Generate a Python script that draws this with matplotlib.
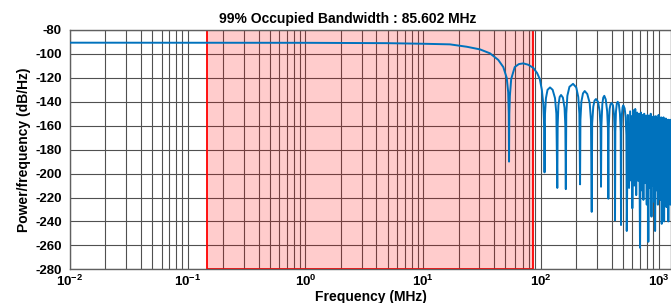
import numpy as np
import matplotlib
matplotlib.use('Agg')
from matplotlib import pyplot as plt
from matplotlib.ticker import LogLocator, NullFormatter

plt.rcParams['font.family'] = ['Liberation Sans', 'DejaVu Sans']
plt.rcParams['font.weight'] = 'bold'
plt.rcParams['mathtext.fontset'] = 'custom'
plt.rcParams['mathtext.rm'] = 'Liberation Sans:bold'
plt.rcParams['mathtext.bf'] = 'Liberation Sans:bold'
plt.rcParams['mathtext.it'] = 'Liberation Sans:bold'
plt.rcParams['axes.unicode_minus'] = False

# main lobe (MHz, dB/Hz)
main_f = [0.01, 1.0, 5.0, 10.0, 16.9, 23.5, 30.4, 37.0, 43.5, 48.0, 51.3, 52.8, 53.4, 53.7]
main_db = [-90.6, -90.7, -91.0, -91.5, -92.0, -94.0, -96.2, -99.5, -105.0, -111.0, -120.0, -132.0, -150.0, -190.0]

# resolved sidelobes
side_f = [54.0, 54.6, 56.0, 60.0, 65.0, 71.0, 78.0, 86.0, 93.0, 98.0, 102.0, 105.0, 106.7, 107.5,
          108.5, 110.5, 114.0, 119.7, 126.0, 132.0, 135.5, 138.0,
          139.0, 141.0, 144.5, 148.5, 154.0, 159.0, 161.5, 163.0,
          164.5, 168.0, 175.0, 187.8, 200.0, 208.0, 212.5, 215.4,
          217.0, 221.0, 228.0, 236.0, 248.0, 260.0, 266.5, 270.6,
          273.0, 279.0, 286.0, 294.0, 306.0, 316.0, 321.5, 324.6,
          327.0, 333.0, 339.0, 346.0, 356.0, 366.0, 371.5, 374.6,
          377.0, 384.0, 391.0, 400.0, 410.0, 419.0, 424.5, 427.0,
          429.5, 435.0, 442.0, 450.0, 460.0, 470.0, 477.0, 480.0,
          483.0, 489.0, 495.0, 502.0, 515.0, 526.0, 533.0, 537.0]
side_db = [-150.0, -135.0, -121.0, -111.0, -108.5, -107.9, -109.0, -111.5, -116.0, -121.0, -130.0, -142.0, -160.0, -199.0,
           -150.0, -137.0, -130.0, -128.0, -130.0, -137.0, -150.0, -212.0,
           -160.0, -143.0, -136.0, -134.3, -136.5, -145.0, -160.0, -213.0,
           -150.0, -135.0, -127.5, -125.0, -128.0, -136.0, -150.0, -209.0,
           -155.0, -140.0, -133.0, -131.0, -133.5, -141.0, -155.0, -232.0,
           -158.0, -144.0, -139.0, -137.7, -140.0, -148.0, -160.0, -211.0,
           -160.0, -142.0, -136.5, -135.0, -138.0, -148.0, -162.0, -221.0,
           -162.0, -146.0, -142.0, -141.0, -143.0, -151.0, -165.0, -239.0,
           -165.0, -148.0, -141.5, -140.0, -142.0, -150.0, -165.0, -243.0,
           -165.0, -150.0, -144.5, -143.0, -145.5, -153.0, -168.0, -248.0]

# unresolved tail
tail_f = [549, 562, 574, 587, 593, 599, 611, 623, 634, 646, 658, 671,
          684, 696, 708, 720, 732, 744, 756, 768, 781, 794, 806, 819,
          832, 845, 858, 871, 884, 897, 910, 922, 928, 935, 948, 961,
          974, 987, 1000, 1013, 1026, 1039, 1052, 1064, 1077, 1090, 1102, 1115,
          1128, 1141, 1154, 1167, 1180, 1193, 1202, 1211, 1224, 1237, 1250, 1263,
          1276, 1290]
tail_db = [-151, -212, -148, -206, -152, -229, -147, -210, -146, -218, -149, -206,
           -150, -262, -149, -214, -151, -222, -150, -208, -152, -226, -151, -257,
           -152, -212, -150, -236, -153, -210, -152, -224, -153, -248, -152, -214,
           -154, -226, -151, -212, -155, -222, -153, -242, -154, -216, -153, -240,
           -155, -214, -154, -228, -156, -212, -155, -240, -155, -218, -156, -226,
           -155, -215]

obw_lo = 0.147
obw_hi = 85.749
obw_mhz = 85.602

y_ticks = list(range(-280, -79, 20))
x_ticks = [1e-2, 1e-1, 1e0, 1e1, 1e2, 1e3]
x_tick_labels = [r'$10^{-2}$', r'$10^{-1}$', r'$10^{0}$', r'$10^{1}$', r'$10^{2}$', r'$10^{3}$']

freq = main_f + side_f + tail_f
psd = main_db + side_db + tail_db

fig = plt.figure(figsize=(6.71, 3.03), dpi=100)
ax = fig.add_axes([70 / 671, 1 - 269.3 / 303, 601 / 671, 239.3 / 303])

ax.axvspan(obw_lo, obw_hi, facecolor=(1, 0, 0, 0.2), edgecolor='red', lw=1.3, zorder=2)
ax.plot(freq, psd, color='#0072BD', lw=1.4, zorder=3)

ax.set_xscale('log')
ax.set_xlim(0.01, 1276)
ax.set_ylim(-280, -80)
ax.set_yticks(y_ticks)
ax.set_xticks(x_ticks)
ax.set_xticklabels(x_tick_labels)
ax.xaxis.set_minor_locator(LogLocator(base=10, subs=np.arange(2, 10), numticks=20))
ax.xaxis.set_minor_formatter(NullFormatter())

ax.set_axisbelow(True)
ax.grid(which='both', color='#505050', lw=0.8)
ax.tick_params(which='both', direction='in', length=0, labelsize=9.5, colors='black')
ax.tick_params(axis='y', pad=6)
ax.tick_params(axis='x', pad=3)
for s in ax.spines.values():
    s.set_color('#606060')
    s.set_linewidth(1.0)

ax.set_title(f'99% Occupied Bandwidth : {obw_mhz:.3f} MHz', fontsize=10, fontweight='bold', x=0.4626, pad=5)
ax.set_xlabel('Frequency (MHz)', fontsize=10, fontweight='bold', labelpad=1)
ax.set_ylabel('Power/frequency (dB/Hz)', fontsize=10, fontweight='bold', labelpad=3)

fig.savefig('out.png', dpi=100)
